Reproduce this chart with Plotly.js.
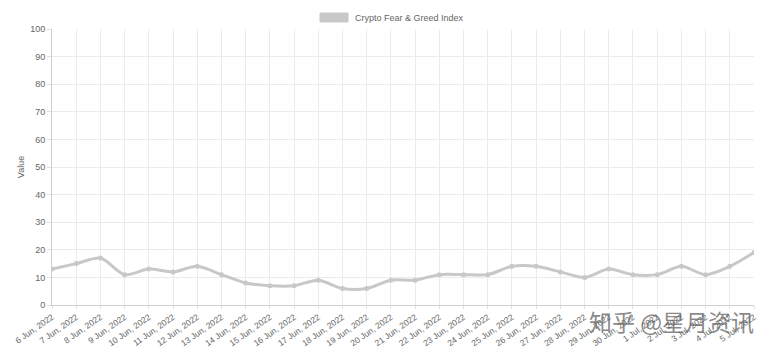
<!DOCTYPE html>
<html>
<head>
<meta charset="utf-8">
<script src="https://cdn.plot.ly/plotly-3.0.1.min.js"></script>
<style>html,body{margin:0;padding:0;background:#fff;}#chart{width:768px;height:348px;}</style>
</head>
<body>
<div id="chart"></div>
<script>
const dates = ["6 Jun, 2022","7 Jun, 2022","8 Jun, 2022","9 Jun, 2022","10 Jun, 2022","11 Jun, 2022","12 Jun, 2022","13 Jun, 2022","14 Jun, 2022","15 Jun, 2022","16 Jun, 2022","17 Jun, 2022","18 Jun, 2022","19 Jun, 2022","20 Jun, 2022","21 Jun, 2022","22 Jun, 2022","23 Jun, 2022","24 Jun, 2022","25 Jun, 2022","26 Jun, 2022","27 Jun, 2022","28 Jun, 2022","29 Jun, 2022","30 Jun, 2022","1 Jul, 2022","2 Jul, 2022","3 Jul, 2022","4 Jul, 2022","5 Jul, 2022"];
const values = [13,15,17,11,13,12,14,11,8,7,7,9,6,6,9,9,11,11,11,14,14,12,10,13,11,11,14,11,14,19];
const seriesName = "Crypto Fear & Greed Index";
const yTitle = "Value";
const watermark = "知乎 @星月资讯";

const lineColor = "#c8c8c8";
const trace = {
  type: "scatter", mode: "lines+markers",
  x: dates, y: values, name: seriesName,
  line: {color: lineColor, width: 3, shape: "spline", smoothing: 0.8},
  marker: {color: lineColor, size: 5},
  showlegend: false
};
const font = {family: "Liberation Sans, Arial, sans-serif", size: 9, color: "#666"};
const layout = {
  width: 768, height: 348,
  margin: {l: 52, r: 14, t: 29, b: 43},
  paper_bgcolor: "#fff", plot_bgcolor: "#fff",
  font: font,
  xaxis: {
    type: "category", range: [0, dates.length - 1], tickangle: -35,
    showgrid: true, gridcolor: "#ebebeb", gridwidth: 1,
    showline: true, linecolor: "#cfcfcf", linewidth: 1,
    ticks: "outside", ticklen: 3, tickcolor: "#e0e0e0",
    tickfont: {family: font.family, size: 8.5, color: "#666"},
    automargin: false, zeroline: false
  },
  yaxis: {
    range: [0, 100], dtick: 10, tick0: 0,
    showgrid: true, gridcolor: "#ebebeb", gridwidth: 1,
    showline: true, linecolor: "#cfcfcf", linewidth: 1,
    ticks: "outside", ticklen: 4, tickcolor: "#e0e0e0",
    tickfont: {family: font.family, size: 9, color: "#666"},
    title: {text: yTitle, font: {family: font.family, size: 9, color: "#666"}, standoff: 4},
    automargin: false, zeroline: false
  },
  shapes: [{type: "rect", xref: "paper", yref: "paper", xsizemode: "pixel", ysizemode: "pixel",
    xanchor: 0.3818, yanchor: 1.0, x0: 0, x1: 28, y0: 7, y1: 16,
    fillcolor: "#c8c8c8", line: {color: "#c8c8c8", width: 1}}],
  annotations: [
    {xref: "paper", yref: "paper", x: 0.4288, y: 1, yshift: 11.5, text: seriesName, showarrow: false,
     xanchor: "left", yanchor: "middle", font: {family: font.family, size: 9, color: "#666"}},
    {xref: "paper", yref: "paper", x: 0.883, y: 0, yshift: -16, text: watermark, showarrow: false,
     xanchor: "center", yanchor: "middle", font: {family: "Noto Sans CJK SC, sans-serif", size: 23, color: "rgba(100,100,100,0.75)"}}
  ]
};
Plotly.newPlot("chart", [trace], layout, {displayModeBar: false, staticPlot: true});
</script>
</body>
</html>
